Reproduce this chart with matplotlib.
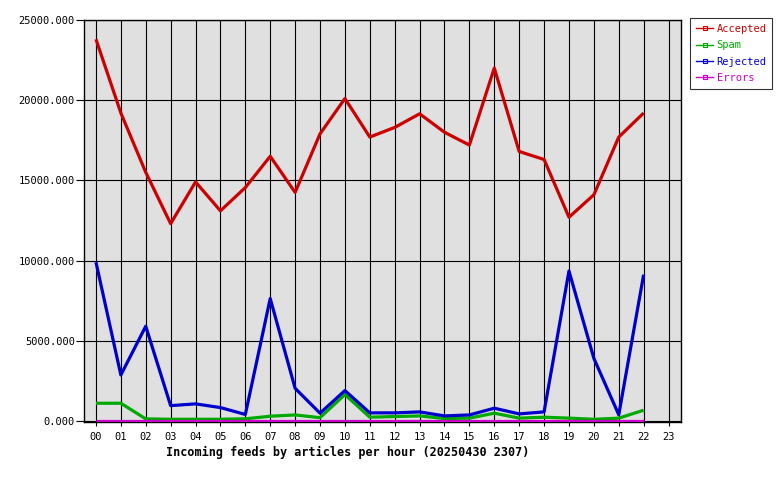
import matplotlib
matplotlib.use("Agg")
import matplotlib.pyplot as plt
from matplotlib.lines import Line2D

hours = ["00","01","02","03","04","05","06","07","08","09","10","11",
         "12","13","14","15","16","17","18","19","20","21","22","23"]
accepted = [23800, 19200, 15500, 12300, 14900, 13100, 14550, 16500, 14250, 17900,
            20100, 17700, 18300, 19150, 18000, 17200, 22000, 16800, 16300, 12700,
            14100, 17700, 19200]
spam = [1100, 1100, 125, 100, 100, 100, 130, 290, 370, 200, 1640, 230,
        270, 310, 145, 170, 480, 170, 230, 170, 100, 170, 665]
rejected = [9900, 2860, 5900, 950, 1060, 830, 400, 7630, 2030, 480, 1890, 500,
            500, 560, 310, 370, 790, 435, 560, 9350, 3900, 380, 9120]
errors = [0] * 23
yticks = [0, 5000, 10000, 15000, 20000, 25000]

series = [("Accepted", accepted, "#cc0000"),
          ("Spam", spam, "#00aa00"),
          ("Rejected", rejected, "#0000cc"),
          ("Errors", errors, "#cc00cc")]

plt.rcParams["font.family"] = ["DejaVu Sans Mono"]
fig = plt.figure(figsize=(7.8, 4.8), dpi=100)
ax = fig.add_axes([84/780, 1 - 422/480, (681-84)/780, (422-20)/480])
ax.set_facecolor("#e0e0e0")

x = list(range(len(hours)))
for i, (name, vals, col) in enumerate(series):
    ax.plot(x[:len(vals)], vals, color=col, lw=2.3, solid_capstyle="butt", zorder=5 + i)

ax.set_xlim(-0.48, 23.5)
ax.set_ylim(-70, 25000)
ax.set_xticks(x)
ax.set_xticklabels(hours, fontsize=7.5)
ax.set_yticks(yticks)
ax.set_yticklabels([f"{v:.3f}" for v in yticks], fontsize=7.5)
ax.tick_params(axis="y", length=6, width=0.8, pad=0.5, color="black")
ax.tick_params(axis="x", length=3, width=0.8, pad=4, color="black")
ax.grid(True, color="black", lw=0.8, zorder=1)
ax.set_axisbelow(True)
for s in ax.spines.values():
    s.set_color("black")
    s.set_linewidth(1.0)
    s.set_zorder(2)

fig.text(348/780, 1 - 452/480, "Incoming feeds by articles per hour (20250430 2307)",
         ha="center", va="center", fontsize=8.5, fontweight="bold")

handles = [Line2D([0], [0], color=c, lw=1, marker="s", markersize=2.5,
                  markerfacecolor="none", markeredgewidth=0.8) for _, _, c in series]
leg = fig.legend(handles, [n for n, _, _ in series], loc="upper left",
                 bbox_to_anchor=(690/780, 1 - 18/480), fontsize=7.5,
                 frameon=True, fancybox=False, edgecolor="black",
                 handlelength=1.7, handletextpad=0.3, borderpad=0.55,
                 labelspacing=0.62, borderaxespad=0, labelcolor="linecolor")
leg.get_frame().set_linewidth(0.8)

fig.savefig("out.png", dpi=100)
